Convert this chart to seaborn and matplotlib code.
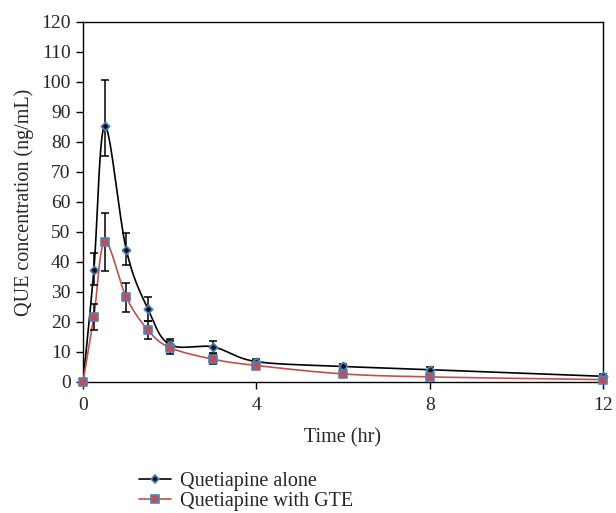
import numpy as np
import pandas as pd
import matplotlib
matplotlib.use("Agg")
import matplotlib.pyplot as plt
import seaborn as sns
from matplotlib.lines import Line2D

# ---- data ----
time_hr = [0, 0.25, 0.5, 1, 1.5, 2, 3, 4, 6, 8, 12]
alone_mean = [0, 37.2, 85.3, 44.0, 24.3, 12.5, 11.7, 6.8, 5.2, 4.1, 1.9]
alone_err_low = [0, 5.0, 9.8, 5.0, 4.0, 2.0, 2.0, 0.8, 0.8, 1.0, 0.8]
alone_err_high = [0, 5.8, 15.3, 5.8, 4.0, 2.0, 2.0, 0.8, 0.8, 1.0, 0.8]
gte_mean = [0, 21.6, 46.7, 28.2, 17.3, 11.5, 7.6, 5.5, 2.7, 1.7, 0.8]
gte_err_low = [0, 4.3, 9.8, 4.7, 3.0, 2.3, 1.6, 0.6, 0.6, 0.8, 0.5]
gte_err_high = [0, 4.3, 9.8, 4.7, 3.0, 2.3, 1.6, 0.6, 0.6, 0.8, 0.5]
series_names = ["Quetiapine alone", "Quetiapine with GTE"]
x_ticks = [0, 4, 8, 12]
y_ticks = list(range(0, 121, 10))

sns.set_theme(style="white")
plt.rcParams["font.family"] = ["Liberation Serif", "DejaVu Serif"]
plt.rcParams["font.size"] = 14

fig = plt.figure(figsize=(6.16, 5.13), dpi=100)
ax = fig.add_axes([83 / 616, 1 - 382 / 513, (603 - 83) / 616, (382 - 22) / 513])


def smooth_path(xs, ys, n=30):
    """Excel-style smoothed line (Bezier through the data points)."""
    P = np.column_stack([xs, ys]).astype(float)
    P = np.vstack([P[0], P, P[-1]])
    out = []
    for i in range(1, len(P) - 2):
        p0, p1, p2, p3 = P[i - 1], P[i], P[i + 1], P[i + 2]
        c1 = p1 + (p2 - p0) / 6.0
        c2 = p2 - (p3 - p1) / 6.0
        t = np.linspace(0, 1, n)[:, None]
        seg = ((1 - t) ** 3) * p1 + 3 * ((1 - t) ** 2) * t * c1 + 3 * (1 - t) * t ** 2 * c2 + t ** 3 * p2
        out.append(seg if i == 1 else seg[1:])
    s = np.vstack(out)
    return s[:, 0], s[:, 1]


styles = [
    dict(mean=alone_mean, lo=alone_err_low, hi=alone_err_high, line="#000000", marker="D",
         face="#111111", edge="#4F81BD", ms=4.3),
    dict(mean=gte_mean, lo=gte_err_low, hi=gte_err_high, line="#C0504D", marker="s",
         face="#C0504D", edge="#4F81BD", ms=6.0),
]

handles = []
for name, st in zip(series_names, styles):
    sx, sy = smooth_path(time_hr, st["mean"])
    curve = pd.DataFrame({"x": sx, "y": sy})
    sns.lineplot(data=curve, x="x", y="y", ax=ax, color=st["line"], lw=1.2,
                 sort=False, estimator=None, zorder=3)
    ax.errorbar(time_hr, st["mean"], yerr=[st["lo"], st["hi"]], fmt="none", ecolor="black",
                elinewidth=1.1, capsize=3.2, capthick=1.1, zorder=4, clip_on=False)
    pts = pd.DataFrame({"t": time_hr, "c": st["mean"]})
    sns.scatterplot(data=pts, x="t", y="c", ax=ax, marker=st["marker"], s=st["ms"] ** 2,
                    color=st["face"], edgecolor=st["edge"], linewidth=1.2, zorder=5, clip_on=False)
    handles.append(Line2D([0], [0], color=st["line"], lw=1.2, marker=st["marker"],
                          markersize=st["ms"], markerfacecolor=st["face"],
                          markeredgecolor=st["edge"], markeredgewidth=1.2))

ax.set_xlim(0, 12)
ax.set_ylim(0, 120)
ax.set_xticks(x_ticks)
ax.set_yticks(y_ticks)
ax.set_xticklabels([str(v) for v in x_ticks])
ax.set_yticklabels([str(v) for v in y_ticks])
ax.set_xlabel("Time (hr)", fontsize=14.5, labelpad=10)
ax.set_ylabel("QUE concentration (ng/mL)", fontsize=14.5, labelpad=5)
ax.tick_params(axis="both", which="major", labelsize=14, direction="out",
               length=5, width=1, color="black", bottom=True, left=True, pad=4)
ax.tick_params(axis="x", pad=6)
for sp in ax.spines.values():
    sp.set_visible(True)
    sp.set_color("black")
    sp.set_linewidth(1.0)
ax.grid(False)

fig.legend(handles, series_names, loc="upper left", bbox_to_anchor=(139 / 616, 1 - 472 / 513),
           frameon=False, fontsize=14.5, handlelength=1.6, handletextpad=0.45,
           labelspacing=0.02, borderaxespad=0, borderpad=0)

fig.savefig("out.png", dpi=100)
